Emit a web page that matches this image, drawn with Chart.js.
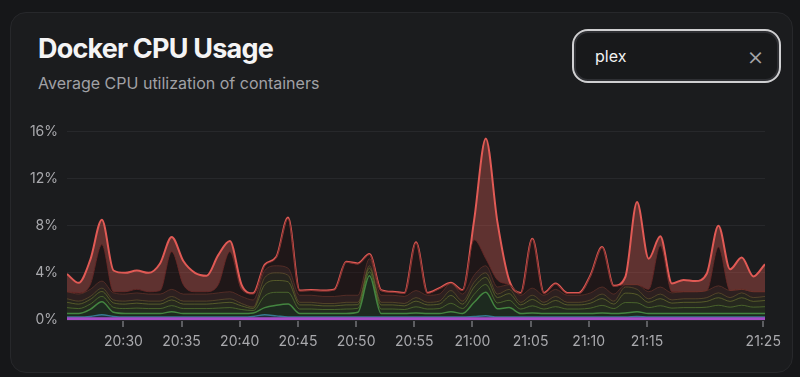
<!DOCTYPE html>
<html>
<head>
    <title>Docker CPU Usage</title>
    <script src="https://cdn.jsdelivr.net/npm/chart.js"></script>
    <style>
        body {
            margin: 0;
            width: 800px;
            height: 377px;
            background: #161719;
            font-family: 'Inter', 'Noto Sans', sans-serif;
            overflow: hidden;
            position: relative;
        }

        .card {
            position: absolute;
            left: 10px;
            top: 12px;
            width: 781px;
            height: 359px;
            background: #1b1c1e;
            border: 1px solid #27282b;
            border-radius: 16px;
        }

        .title {
            position: absolute;
            left: 38px;
            top: 32px;
            margin: 0;
            font-size: 27px;
            font-weight: 700;
            letter-spacing: -0.8px;
            color: #f4f4f5;
            line-height: 34px;
        }

        .subtitle {
            position: absolute;
            left: 38px;
            top: 72px;
            font-size: 16px;
            color: #a1a1a6;
            line-height: 22px;
        }

        .search {
            position: absolute;
            left: 572px;
            top: 29px;
            width: 209px;
            height: 54px;
            box-sizing: border-box;
            border: 2px solid #cfcfd1;
            border-radius: 16px;
            background: #18191b;
            box-shadow: inset 0 0 0 2px #2e2f33;
        }

        .search .q {
            position: absolute;
            left: 21px;
            top: 14px;
            font-size: 16px;
            color: #f2f2f2;
            line-height: 22px;
        }

        .search .x {
            position: absolute;
            right: 15px;
            top: 11px;
            font-size: 26px;
            font-weight: 300;
            color: #a5a5a8;
            line-height: 28px;
        }

        #wrap {
            position: absolute;
            left: 0;
            top: 114px;
            width: 800px;
            height: 256px;
        }
    </style>
</head>
<body>
    <div class="card"></div>
    <h1 class="title">Docker CPU Usage</h1>
    <div class="subtitle">Average CPU utilization of containers</div>
    <div class="search"><span class="q">plex</span><span class="x">×</span></div>
    <div id="wrap"><canvas id="cpu" width="800" height="256"></canvas></div>

    <script>
        // samples once a minute, first one at 20:25:09 (minutes after 20:00)
        const firstSample = 25.15;
        const sampleCount = 61;

        const tickMinutes = [30, 35, 40, 45, 50, 55, 60, 65, 70, 75, 85];
        const yTicks = [0, 4, 8, 12, 16];

        // stacked layers, bottom to top (% CPU)
        const purpleSvc = [0.1,0.1,0.1,0.1,0.1,0.1,0.1,0.1,0.1,0.1, 0.1,0.1,0.1,0.1,0.1,0.1,0.1,0.1,0.1,0.1, 0.1,0.1,0.1,0.1,0.1,0.1,0.1,0.1,0.1,0.1, 0.1,0.1,0.1,0.1,0.1,0.1,0.1,0.1,0.1,0.1, 0.1,0.1,0.1,0.1,0.1,0.1,0.1,0.1,0.1,0.1, 0.1,0.1,0.1,0.1,0.1,0.1,0.1,0.1,0.1,0.1,0.1];
        const tealSvc = [0.15,0.15,0.2,0.35,0.2,0.15,0.15,0.15,0.15,0.15, 0.15,0.15,0.15,0.15,0.15,0.15,0.2,0.35,0.25,0.15, 0.15,0.15,0.15,0.15,0.15,0.15,0.15,0.15,0.15,0.15, 0.15,0.15,0.15,0.15,0.15,0.2,0.25,0.15,0.15,0.15, 0.15,0.15,0.15,0.15,0.15,0.15,0.15,0.15,0.15,0.2, 0.15,0.15,0.15,0.15,0.15,0.15,0.15,0.15,0.15,0.15,0.15];
        const greenSvc = [0.3,0.3,0.6,1.1,0.35,0.3,0.3,0.3,0.3,0.45, 0.3,0.3,0.3,0.3,0.3,0.3,0.3,0.6,0.9,1.1, 0.3,0.3,0.3,0.3,0.3,0.4,3.5,0.3,0.3,0.3, 0.35,0.3,0.3,0.45,0.3,1.2,2.0,0.7,0.8,0.3, 0.35,0.3,0.3,0.3,0.3,0.3,0.35,0.3,0.35,0.4, 0.3,0.3,0.3,0.3,0.3,0.3,0.3,0.3,0.3,0.3,0.3];
        const oliveA = [0.5,0.42,0.45,0.45,0.42,0.42,0.46,0.42,0.42,0.52, 0.42,0.42,0.42,0.46,0.5,0.34,0.2,1.0,1.1,1.0, 0.38,0.38,0.34,0.34,0.38,0.34,0.34,0.38,0.38,0.34, 0.52,0.38,0.42,0.72,0.42,0.68,0.66,0.5,0.62,0.38, 0.6,0.38,0.58,0.38,0.38,0.46,0.64,0.42,0.88,0.76, 0.5,0.66,0.46,0.5,0.5,0.54,0.7,0.54,0.7,0.54,0.58];
        const oliveB = [0.45,0.38,0.4,0.42,0.38,0.38,0.42,0.38,0.38,0.48, 0.38,0.38,0.38,0.42,0.45,0.31,0.18,0.95,1.0,0.9, 0.35,0.35,0.31,0.31,0.35,0.31,0.31,0.35,0.35,0.31, 0.48,0.35,0.38,0.66,0.38,0.62,0.6,0.45,0.57,0.35, 0.55,0.35,0.53,0.35,0.35,0.42,0.58,0.38,0.8,0.7, 0.45,0.6,0.42,0.45,0.45,0.49,0.64,0.49,0.64,0.49,0.53];
        const oliveC = [0.3,0.25,0.25,0.28,0.25,0.25,0.27,0.25,0.25,0.3, 0.25,0.25,0.25,0.27,0.3,0.2,0.12,0.6,0.65,0.55, 0.22,0.22,0.2,0.2,0.22,0.2,0.2,0.22,0.22,0.2, 0.3,0.22,0.25,0.42,0.25,0.4,0.39,0.3,0.36,0.22, 0.35,0.22,0.34,0.22,0.22,0.27,0.38,0.25,0.52,0.44, 0.3,0.39,0.27,0.3,0.3,0.32,0.41,0.32,0.41,0.32,0.34];
        const darkBase = [0.6,0.6,0.6,0.6,0.6,0.6,0.6,0.6,0.6,0.6, 0.6,0.6,0.6,0.6,0.6,0.6,0.6,0.6,0.6,0.6, 0.6,0.6,0.6,0.6,0.6,0.6,0.6,0.6,0.6,0.6, 0.6,0.6,0.6,0.6,0.6,0.6,0.6,0.6,0.4,0.6, 0.6,0.6,0.6,0.6,0.6,0.6,0.6,0.6,0.2,0.4, 0.6,0.6,0.6,0.6,0.6,0.6,0.6,0.6,0.3,0.5,0.4];
        const darkBurst = [0,0.1,0.4,3.1,0.1,0.2,0.3,0.2,0.3,3.2, 0.8,0.2,0.2,0.7,3.4,0.6,0.5,0.4,0.7,4.2, 0.35,0.4,0.45,0.55,2.8,2.65,0.35,0.4,0.25,0.25, 4.05,0.15,0.45,0,0.3,3.0,0.6,0.6,0,0.15, 4.15,0.15,0.45,0.15,0.15,1.45,3.35,0.65,0,0, 0.2,3.5,0.1,0,0,0,3.3,0,0,0,0];
        const plex = [1.5,0.85,2.1,2.1,1.8,1.6,1.6,1.6,2.3,1.25, 2.0,1.6,1.35,2.5,0.9,0.4,0.06,0.1,0.06,0.1, 0.05,0.04,0.05,0.05,0.04,0.05,0.05,0.04,0.05,0.05, 0.05,0.05,0.05,0.06,0.04,1.7,10.2,4.9,0.4,0.05, 0.05,0.05,0.05,0.05,0.05,0.05,0.05,0.05,0.67,7.0, 2.6,0.8,0.7,1.0,0.9,1.45,1.8,1.8,2.7,1.3,2.34];

        const minutes = [];
        for (let i = 0; i < sampleCount; i++) minutes.push(firstSample + i);
        const pts = arr => arr.map((v, i) => ({ x: minutes[i], y: v }));

        const fmtTime = m => {
            const h = 20 + Math.floor(m / 60);
            const mm = Math.round(m % 60);
            return h + ':' + String(mm).padStart(2, '0');
        };

        const layer = (data, line, fill, width, first) => ({
            data: pts(data),
            borderColor: line,
            backgroundColor: fill,
            borderWidth: width,
            fill: first ? 'origin' : '-1',
            pointRadius: 0,
            cubicInterpolationMode: 'monotone'
        });

        new Chart(document.getElementById('cpu'), {
            type: 'line',
            data: {
                datasets: [
                    layer(purpleSvc, '#a34cc4', 'rgba(140,70,180,0.5)', 3, true),
                    layer(tealSvc, 'rgba(60,140,170,0.8)', 'rgba(40,110,140,0.25)', 1.5),
                    layer(greenSvc, 'rgba(75,150,70,0.85)', 'rgba(35,70,35,0.35)', 1.5),
                    layer(oliveA, 'rgba(100,140,55,0.6)', 'rgba(55,75,32,0.3)', 1),
                    layer(oliveB, 'rgba(135,145,55,0.5)', 'rgba(65,70,32,0.3)', 1),
                    layer(oliveC, 'rgba(135,110,55,0.45)', 'rgba(65,55,32,0.3)', 1),
                    layer(darkBase, 'rgba(120,60,48,0.55)', 'rgba(80,40,36,0.35)', 1),
                    layer(darkBurst, 'rgba(110,42,40,0.8)', 'rgba(40,14,14,0.35)', 1),
                    layer(plex, '#e15a55', 'rgba(210,88,80,0.375)', 2)
                ]
            },
            options: {
                responsive: false,
                animation: false,
                devicePixelRatio: 1,
                layout: { padding: { left: 0, right: 35, top: 5, bottom: 0 } },
                plugins: {
                    legend: { display: false },
                    tooltip: { enabled: false }
                },
                scales: {
                    x: {
                        type: 'linear',
                        min: firstSample,
                        max: firstSample + sampleCount - 1,
                        afterBuildTicks: s => { s.ticks = tickMinutes.map(v => ({ value: v })); },
                        afterFit: s => { s.height = 50; },
                        border: { display: false },
                        grid: {
                            drawOnChartArea: false,
                            drawTicks: true,
                            tickLength: 7,
                            color: '#5c5d61',
                            lineWidth: 2
                        },
                        ticks: {
                            padding: 6,
                            maxRotation: 0,
                            color: '#a9a9ad',
                            font: { family: 'Inter', size: 14 },
                            callback: v => fmtTime(v)
                        }
                    },
                    y: {
                        stacked: true,
                        min: 0,
                        max: 16,
                        afterBuildTicks: s => { s.ticks = yTicks.map(v => ({ value: v })); },
                        afterFit: s => { s.width = 67; },
                        border: { display: false },
                        grid: {
                            drawTicks: false,
                            color: '#27282b',
                            lineWidth: 1
                        },
                        ticks: {
                            padding: 9,
                            color: '#a9a9ad',
                            font: { family: 'Inter', size: 14 },
                            callback: v => v + '%'
                        }
                    }
                }
            }
        });
    </script>
</body>
</html>
